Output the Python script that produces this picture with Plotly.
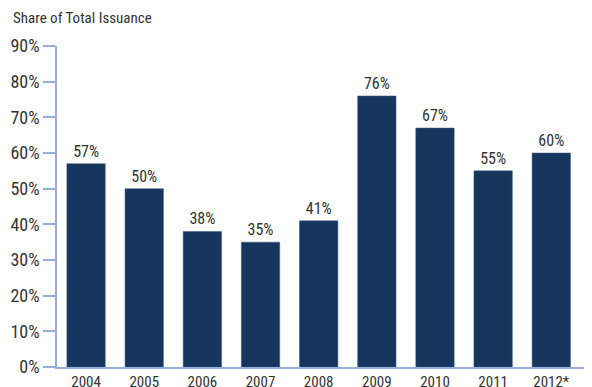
import plotly.graph_objects as go

years = ["2004", "2005", "2006", "2007", "2008", "2009", "2010", "2011", "2012*"]
shares = [57, 50, 38, 35, 41, 76, 67, 55, 60]
labels = [f"{v}%" for v in shares]
tick_vals = [0, 10, 20, 30, 40, 50, 60, 70, 80, 90]
tick_text = [f"{v}%" for v in tick_vals]

FONT = "Liberation Sans Narrow, Arial Narrow, Roboto Condensed, sans-serif"
AXIS = "#94b0d8"

# page body has an 8px default margin; compensate
OFF = 8
W, H = 592 - OFF, 387 - OFF
L, T, B = 57 - OFF, 46 - OFF, 20
PW, PH = W - L, H - T - B

fig = go.Figure(go.Bar(
    x=list(range(len(years))), y=shares,
    text=labels, textposition="outside", cliponaxis=False,
    textfont=dict(family=FONT, size=16, color="#333333"),
    marker=dict(color="#17365d", line=dict(color="#3d5a85", width=0.5)),
    width=0.66,
))

fig.update_layout(
    width=W, height=H,
    margin=dict(l=L, r=0, t=T, b=B),
    plot_bgcolor="white", paper_bgcolor="white",
    showlegend=False,
    font=dict(family=FONT, color="#333333"),
    annotations=[dict(text="Share of Total Issuance",
                      x=(11 - 57) / PW, y=1 + (46 - 18) / PH,
                      xref="paper", yref="paper", showarrow=False,
                      xanchor="left", yanchor="middle",
                      font=dict(family=FONT, size=15, color="#333333"))],
)
fig.update_xaxes(
    range=[-0.5, 8.7], tickvals=list(range(len(years))), ticktext=years,
    showline=True, linecolor=AXIS, linewidth=1.5, ticks="",
    tickfont=dict(family=FONT, size=15, color="#333333"),
    showgrid=False, zeroline=False, automargin=False,
)
fig.update_yaxes(
    range=[0, 90], tickvals=tick_vals, ticktext=tick_text,
    showline=True, linecolor=AXIS, linewidth=1.5,
    ticks="outside", ticklen=12, tickcolor=AXIS, tickwidth=1.5,
    tickfont=dict(family=FONT, size=18, color="#333333"),
    showgrid=False, zeroline=False, automargin=False,
)
fig.write_html("out.html")
